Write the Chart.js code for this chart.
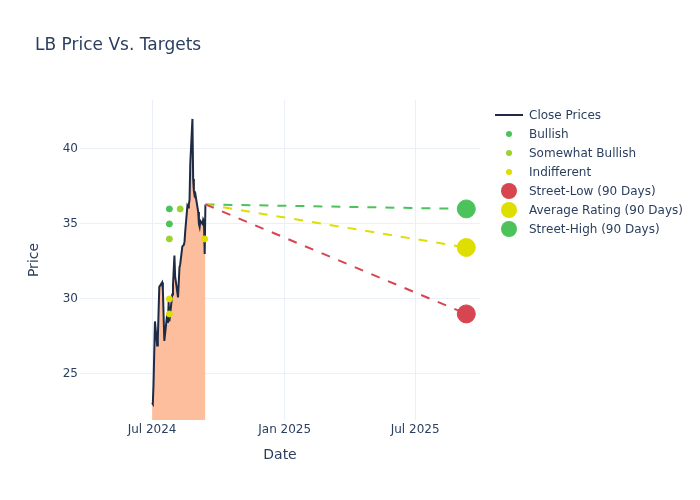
<!DOCTYPE html>
<html>
<head>
<meta charset="utf-8">
<script src="https://cdn.jsdelivr.net/npm/chart.js@4.4.0/dist/chart.umd.min.js"></script>
<style>
  body { margin: 0; background: #fff; font-family: "DejaVu Sans", sans-serif; }
  #wrap { position: relative; width: 700px; height: 500px; }
  #title { position: absolute; left: 35px; top: 34px; font-size: 17px; line-height: 20px; color: #2a3f5f; }
  #legend { position: absolute; left: 495px; top: 105px; font-size: 12px; color: #2a3f5f; }
  .row { height: 19px; display: flex; align-items: center; }
  .sym { width: 34px; height: 19px; position: relative; }
  .sym span { position: absolute; display: block; }
</style>
</head>
<body>
<div id="wrap">
  <canvas id="chart" width="700" height="500"></canvas>
  <div id="title">LB Price Vs. Targets</div>
  <div id="legend"></div>
</div>
<script>
// close prices
const closeDates = ['2024-07-01','2024-07-02','2024-07-03','2024-07-05','2024-07-08','2024-07-09','2024-07-11',
  '2024-07-15','2024-07-16','2024-07-18','2024-07-22','2024-07-23','2024-07-24','2024-07-25','2024-07-29',
  '2024-07-30','2024-08-01','2024-08-02','2024-08-06','2024-08-08','2024-08-09','2024-08-12','2024-08-14',
  '2024-08-15','2024-08-16','2024-08-19','2024-08-20','2024-08-21','2024-08-22','2024-08-23','2024-08-26',
  '2024-08-27','2024-08-28','2024-08-29','2024-08-30','2024-09-03','2024-09-04','2024-09-05','2024-09-06',
  '2024-09-09','2024-09-10','2024-09-11','2024-09-12','2024-09-13'];
const closeValues = [23.07, 23.0, 24.3, 28.5, 26.9, 27.4, 30.8,
  31.1, 30.6, 27.2, 29.0, 28.4, 29.8, 28.5, 30.3,
  30.9, 32.9, 31.5, 30.1, 32.1, 32.3, 33.5, 33.6,
  33.8, 34.5, 36.2, 36.1, 36.3, 36.6, 39.0, 42.0,
  38.0, 37.2, 36.9, 37.0, 35.8, 35.0, 34.8, 35.2,
  35.0, 35.3, 35.2, 33.0, 36.3];

// analyst ratings
const bullishDates = ['2024-07-25', '2024-07-25'];
const bullishValues = [36, 35];
const somewhatDates = ['2024-07-25', '2024-08-09'];
const somewhatValues = [34, 36];
const indifferentDates = ['2024-07-25', '2024-07-25', '2024-09-12'];
const indifferentValues = [30, 29, 34];

// 90-day targets
const targetDate = '2025-09-10';
const targetNames = ['Street-Low (90 Days)', 'Average Rating (90 Days)', 'Street-High (90 Days)'];
const targetValues = [29, 33.43, 36];

const xTickDates = ['2024-07-01', '2025-01-01', '2025-07-01'];
const xTickLabels = ['Jul 2024', 'Jan 2025', 'Jul 2025'];
const yTicks = [25, 30, 35, 40];

const ink = '#2a3f5f';
const grid = '#EBF0F8';
const lineColor = '#1f2a44';
const fillColor = '#FCBE9C';
const green = '#4CC35A';
const lime = '#9BD22F';
const yellow = '#DEDE00';
const red = '#D64550';
const targetColors = [red, yellow, green];

const t = d => Date.parse(d);
const pts = (dates, vals) => dates.map((d, i) => ({ x: t(d), y: vals[i] }));
const lastX = t(closeDates[closeDates.length - 1]);
const lastY = closeValues[closeValues.length - 1];

const datasets = [];
const markerSet = (label, dates, vals, color, r, order) => ({
  label, data: pts(dates, vals), showLine: false,
  pointRadius: r, pointHoverRadius: r, pointBackgroundColor: color,
  pointBorderColor: color, pointBorderWidth: 1, order
});

datasets.push({
  label: 'Close Prices', data: pts(closeDates, closeValues),
  borderColor: lineColor, borderWidth: 2, backgroundColor: fillColor,
  fill: 'start', pointRadius: 0, tension: 0, order: 10
});
datasets.push(markerSet('Bullish', bullishDates, bullishValues, green, 3, 3));
datasets.push(markerSet('Somewhat Bullish', somewhatDates, somewhatValues, lime, 3, 3));
datasets.push(markerSet('Indifferent', indifferentDates, indifferentValues, yellow, 3, 3));
targetNames.forEach((name, i) => {
  datasets.push({
    label: name + ' line', data: [{ x: lastX, y: lastY }, { x: t(targetDate), y: targetValues[i] }],
    borderColor: targetColors[i], borderWidth: 2, borderDash: [9, 9],
    pointRadius: 0, fill: false, order: 5
  });
  datasets.push(markerSet(name, [targetDate], [targetValues[i]], targetColors[i], 9, 1));
});

const font = { family: '"DejaVu Sans", sans-serif', size: 12 };

new Chart(document.getElementById('chart'), {
  type: 'line',
  data: { datasets },
  options: {
    responsive: false,
    animation: false,
    layout: { padding: { top: 100, left: 22, right: 220, bottom: 32 } },
    plugins: { legend: { display: false }, tooltip: { enabled: false } },
    scales: {
      x: {
        type: 'linear',
        min: t('2024-03-23'), max: t('2025-09-29'),
        afterBuildTicks: s => { s.ticks = xTickDates.map(d => ({ value: t(d) })); },
        afterFit: s => { s.height = 48; },
        ticks: { autoSkip: false, maxRotation: 0, padding: 3, color: ink, font,
          callback: (v, i) => xTickLabels[i] },
        grid: { color: grid, drawTicks: false },
        border: { display: false },
        title: { display: true, text: 'Date', color: ink, font: { ...font, size: 14 } }
      },
      y: {
        min: 21.93, max: 43.26,
        afterBuildTicks: s => { s.ticks = yTicks.map(v => ({ value: v })); },
        afterFit: s => { s.width = 58; },
        ticks: { padding: 2, color: ink, font },
        grid: { color: grid, drawTicks: false },
        border: { display: false },
        title: { display: true, text: 'Price', color: ink, font: { ...font, size: 14 } }
      }
    }
  }
});

// legend
const legendItems = [
  { label: 'Close Prices', kind: 'line', color: lineColor },
  { label: 'Bullish', kind: 'dot', color: green, size: 6 },
  { label: 'Somewhat Bullish', kind: 'dot', color: lime, size: 6 },
  { label: 'Indifferent', kind: 'dot', color: yellow, size: 6 }
].concat(targetNames.map((n, i) => ({ label: n, kind: 'dot', color: targetColors[i], size: 16 })));

const legend = document.getElementById('legend');
legendItems.forEach(item => {
  const row = document.createElement('div');
  row.className = 'row';
  const sym = document.createElement('div');
  sym.className = 'sym';
  const s = document.createElement('span');
  if (item.kind === 'line') {
    Object.assign(s.style, { left: '0px', top: '8.5px', width: '28px', height: '2px', background: item.color });
  } else {
    Object.assign(s.style, { left: (14 - item.size / 2) + 'px', top: (9.5 - item.size / 2) + 'px',
      width: item.size + 'px', height: item.size + 'px', borderRadius: '50%', background: item.color });
  }
  sym.appendChild(s);
  const txt = document.createElement('span');
  txt.textContent = item.label;
  row.appendChild(sym);
  row.appendChild(txt);
  legend.appendChild(row);
});
</script>
</body>
</html>
